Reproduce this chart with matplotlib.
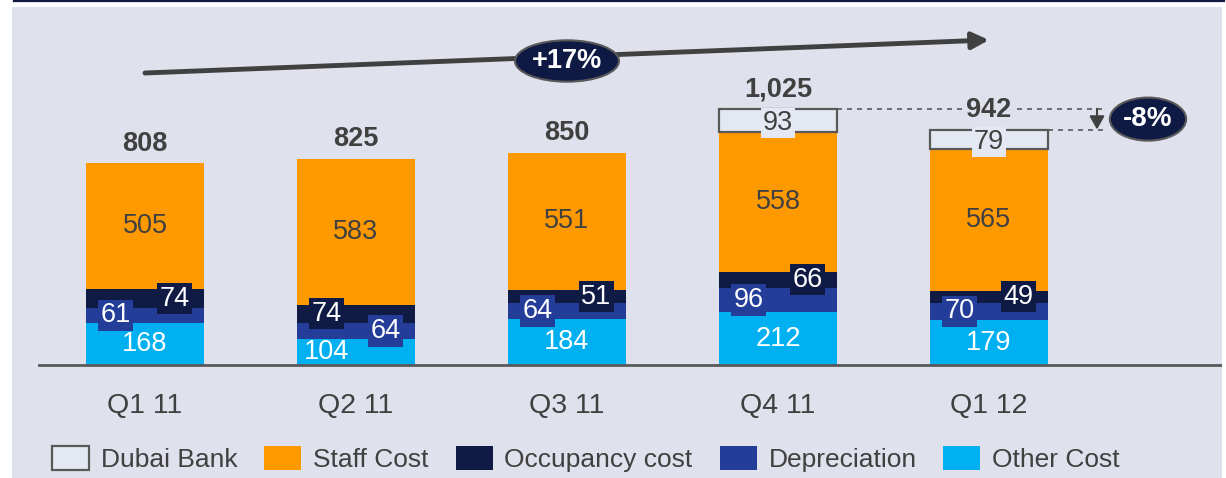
import matplotlib
matplotlib.use("Agg")
import matplotlib.pyplot as plt
import numpy as np
from matplotlib.patches import Patch

plt.rcParams['font.family'] = ['Liberation Sans', 'DejaVu Sans']

quarters = ["Q1 11", "Q2 11", "Q3 11", "Q4 11", "Q1 12"]
other_cost = [168, 104, 184, 212, 179]
depreciation = [61, 64, 64, 96, 70]
occupancy = [74, 74, 51, 66, 49]
staff_cost = [505, 583, 551, 558, 565]
dubai_bank = [0, 0, 0, 93, 79]
totals = [808, 825, 850, 1025, 942]
total_labels = ["808", "825", "850", "1,025", "942"]
growth_label = "+17%"
change_label = "-8%"

c_other = "#00B0F0"
c_dep = "#233D99"
c_occ = "#101B45"
c_staff = "#FF9900"
c_dubai = "#E4E8F2"
c_text = "#404040"
c_bg = "#DFE1EC"

W, H = 1226, 478
fig = plt.figure(figsize=(W / 100, H / 100), dpi=100, facecolor="white")
ax = fig.add_axes([12 / W, 0, (1222 - 12) / W, (H - 7) / H])
ax.set_facecolor(c_bg)
# x: px = 145 + 211 * i ; y: 0.25 px per unit, baseline 113 px from bottom
ax.set_xlim((12 - 145) / 211, (1222 - 145) / 211)
ax.set_ylim(-113 * 4, (471 - 113) * 4)
for s in ax.spines.values():
    s.set_visible(False)
ax.set_xticks([])
ax.set_yticks([])

# top rule
fig.add_artist(plt.Line2D([14 / W, 1224 / W], [1 - 1 / H, 1 - 1 / H],
                          color="#0F1A44", lw=1.6))

x = np.arange(len(quarters))
w = 0.56
other_cost = np.array(other_cost)
depreciation = np.array(depreciation)
occupancy = np.array(occupancy)
staff_cost = np.array(staff_cost)
dubai_bank = np.array(dubai_bank)

b0 = np.zeros(len(x))
b1 = b0 + other_cost
b2 = b1 + depreciation
b3 = b2 + occupancy
b4 = b3 + staff_cost

ax.bar(x, other_cost, w, bottom=b0, color=c_other, zorder=2)
ax.bar(x, depreciation, w, bottom=b1, color=c_dep, zorder=2)
ax.bar(x, occupancy, w, bottom=b2, color=c_occ, zorder=2)
ax.bar(x, staff_cost, w, bottom=b3, color=c_staff, zorder=2)
has_db = dubai_bank > 0
ax.bar(x[has_db], dubai_bank[has_db], w, bottom=b4[has_db], color=c_dubai,
       edgecolor="#595959", linewidth=1.6, zorder=2)

# baseline
ax.plot([(39 - 145) / 211, ax.get_xlim()[1]], [0, 0], color="#595959", lw=2, zorder=3)

fs = 19.5
off = 0.14
# occupancy on left for Q2 only
occ_side = [1, -1, 1, 1, 1]
other_shift = [0, -0.14, 0, 0, 0]
for i in x:
    ax.text(i + other_shift[i], b1[i] / 2, str(other_cost[i]), ha="center", va="center",
            color="white", fontsize=fs, zorder=4)
    ax.text(i - occ_side[i] * off, b1[i] + depreciation[i] / 2, str(depreciation[i]),
            ha="center", va="center", color="white", fontsize=fs, zorder=5,
            bbox=dict(boxstyle="square,pad=0.1", fc=c_dep, ec="none"))
    ax.text(i + occ_side[i] * off, b2[i] + occupancy[i] / 2, str(occupancy[i]),
            ha="center", va="center", color="white", fontsize=fs, zorder=5,
            bbox=dict(boxstyle="square,pad=0.1", fc=c_occ, ec="none"))
    ax.text(i, b3[i] + staff_cost[i] / 2, str(staff_cost[i]), ha="center", va="center",
            color=c_text, fontsize=fs, zorder=4)
    if dubai_bank[i] > 0:
        ax.text(i, b4[i] + dubai_bank[i] / 2 - 10, str(dubai_bank[i]), ha="center",
                va="center", color=c_text, fontsize=fs, zorder=5,
                bbox=dict(boxstyle="square,pad=0.08", fc=c_dubai, ec="none"))
    ax.annotate(total_labels[i], (i, totals[i]), xytext=(0, 14), textcoords="offset points",
                ha="center", va="center", fontsize=fs, fontweight="bold", color=c_text,
                zorder=6, bbox=dict(boxstyle="square,pad=0.05", fc=c_bg, ec="none"))

# quarter labels
for i in x:
    ax.text(i, -162, quarters[i], ha="center", va="center", fontsize=20.5, color=c_text)

# growth arrow
ax.annotate("", xy=(4, 1300), xytext=(0, 1168),
            arrowprops=dict(arrowstyle="-|>,head_length=1.0,head_width=0.5",
                            color="#404040", lw=3.5, shrinkA=0, shrinkB=0), zorder=3)
ax.text((567 - 145) / 211, 1216, growth_label, ha="center", va="center", fontsize=19.5,
        fontweight="bold", color="white", zorder=6,
        bbox=dict(boxstyle="ellipse,pad=0.06", fc="#0F1A44", ec="#595959", lw=1.5))

# change indicator
xe = (1105 - 145) / 211
ax.plot([3 + w / 2, xe], [totals[3], totals[3]], ls=(0, (3, 3)), color="#595959", lw=1.2, zorder=1)
ax.plot([4 + w / 2, xe], [totals[4], totals[4]], ls=(0, (3, 3)), color="#595959", lw=1.2, zorder=1)
xa = (1097 - 145) / 211
ax.annotate("", xy=(xa, totals[4]), xytext=(xa, totals[3]),
            arrowprops=dict(arrowstyle="-|>,head_length=0.8,head_width=0.45",
                            color="#404040", lw=1.5, shrinkA=0, shrinkB=0), zorder=3)
ax.text((1148 - 145) / 211, (totals[3] + totals[4]) / 2, change_label, ha="center",
        va="center", fontsize=20, fontweight="bold", color="white", zorder=6,
        bbox=dict(boxstyle="ellipse,pad=0.08", fc="#0F1A44", ec="#595959", lw=1.5))

# legend
handles = [
    Patch(fc=c_dubai, ec="#595959", lw=1.6, label="Dubai Bank"),
    Patch(fc=c_staff, label="Staff Cost"),
    Patch(fc=c_occ, label="Occupancy cost"),
    Patch(fc=c_dep, label="Depreciation"),
    Patch(fc=c_other, label="Other Cost"),
]
leg = fig.legend(handles=handles, loc="center left", bbox_to_anchor=(52 / W, 19 / H),
                 ncol=5, frameon=False, fontsize=19, handlelength=1.4, handleheight=1.05,
                 handletextpad=0.45, columnspacing=1.02, borderaxespad=0, borderpad=0)
for t in leg.get_texts():
    t.set_color(c_text)

fig.savefig("out.png", dpi=100, facecolor="white")
